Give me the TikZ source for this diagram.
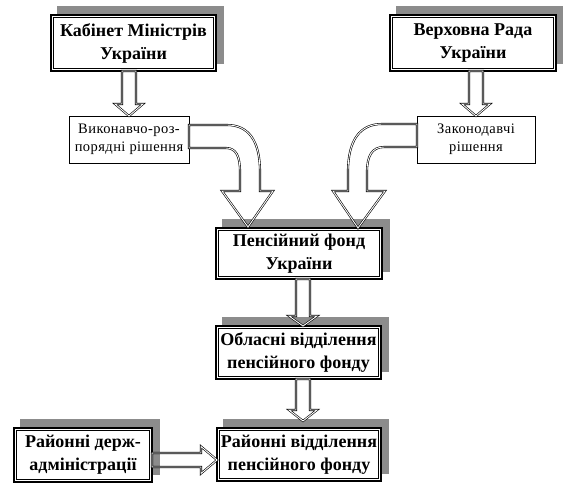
\documentclass[tikz,border=0pt]{standalone}
\usepackage{fontspec}
\setmainfont{Liberation Serif}
\newfontfamily\spacedfont[LetterSpace=3]{Liberation Serif}
\usetikzlibrary{calc}
\definecolor{shadowgray}{gray}{0.55}
\tikzset{
  mainbox/.style={draw=black, line width=2pt, fill=white, align=center, inner sep=0pt, outer sep=0pt,
    font=\bfseries\fontsize{18}{23}\selectfont},
  innerframe/.style={draw=black, line width=0.6pt},
  shadowbox/.style={fill=shadowgray},
  smallbox/.style={draw=black, line width=0.6pt, fill=white, align=center, inner sep=0pt, outer sep=0pt,
    font=\spacedfont\fontsize{14.5}{18}\selectfont},
  hollowarrow/.style={draw=black, line width=0.6pt, double=white, double distance=0.9pt, line join=miter, miter limit=20},
}
\newcommand\mkbox[6]{%
  \fill[shadowbox] (#2+7,#3-8) rectangle (#4+7,#5-8);
  \node[mainbox, minimum width={#4-#2-2}, minimum height={#5-#3-2}] (#1) at ({(#2+#4)/2},{(#3+#5)/2}) {#6};
  \draw[innerframe] (#2+3.4,#3+3.4) rectangle (#4-3.4,#5-3.4);
}
\newcommand\hollowdown[3]{%
  \draw[hollowarrow] ($(#1)+(-7,0)$) -- ($(#2)+(-7,-#3)$) -- ($(#2)+(-14,-#3)$) -- (#2)
    -- ($(#2)+(14,-#3)$) -- ($(#2)+(7,-#3)$) -- ($(#1)+(7,0)$) -- cycle;
}
\begin{document}
\begin{tikzpicture}[x=1pt,y=-1pt]
\useasboundingbox (0,0) rectangle (563,487);
% boxes
\mkbox{km}{50}{14}{217}{72}{Кабінет Міністрів\\України}
\mkbox{vr}{389}{14}{557}{72}{Верховна Рада\\України}
\mkbox{pf}{215}{227}{383}{280}{Пенсійний фонд\\України}
\mkbox{obl}{215}{325}{382}{380}{Обласні відділення\\пенсійного фонду}
\mkbox{rv}{216}{427}{382}{482}{Районні відділення\\пенсійного фонду}
\mkbox{rda}{13}{427}{153}{483}{Районні держ-\\адміністрації}
\node[smallbox, minimum width=120, minimum height=47] (vyk) at (129,139.5) {Виконавчо-роз-\\порядні рішення};
\node[smallbox, minimum width=118, minimum height=47] (zak) at (476,139.5) {Законодавчі\\рішення};
% straight arrows
\hollowdown{vyk.north |- km.south}{vyk.north}{12}
\hollowdown{zak.north |- vr.south}{zak.north}{12}
\coordinate (a3t) at ($(pf.south)+(4,0)$);
\coordinate (a3b) at (a3t |- obl.north);
\hollowdown{a3t}{a3b}{10}
\coordinate (a4t) at ($(obl.south)+(4.5,0)$);
\coordinate (a4b) at ($(a4t |- rv.north)+(0,-7)$);
\hollowdown{a4t}{a4b}{11}
\coordinate (a5s) at ($(rda.east)+(0,5)$);
\coordinate (a5e) at (a5s -| rv.west);
\draw[hollowarrow] ($(a5s)+(0,-7)$) -- ($(a5e)+(-16,-7)$) -- ($(a5e)+(-16,-13.5)$) -- (a5e)
  -- ($(a5e)+(-16,13.5)$) -- ($(a5e)+(-16,7)$) -- ($(a5s)+(0,7)$) -- cycle;
% curved arrows
\draw[hollowarrow] (vyk.east |- 0,125) -- (227,125) .. controls (248,125) and (260,140) .. (260,172)
  -- (260,191) -- (273,191) -- (248,227) -- (222,191) -- (240,191) -- (240,172)
  .. controls (240,156) and (236,148) .. (226,148) -- (vyk.east |- 0,148) -- cycle;
\draw[hollowarrow] (zak.west |- 0,124) -- (382,124) .. controls (360,124) and (348,140) .. (348,172)
  -- (348,191) -- (333,191) -- (358,228) -- (385,191) -- (367,191) -- (367,172)
  .. controls (367,156) and (372,147) .. (384,147) -- (zak.west |- 0,147) -- cycle;
\end{tikzpicture}
\end{document}
